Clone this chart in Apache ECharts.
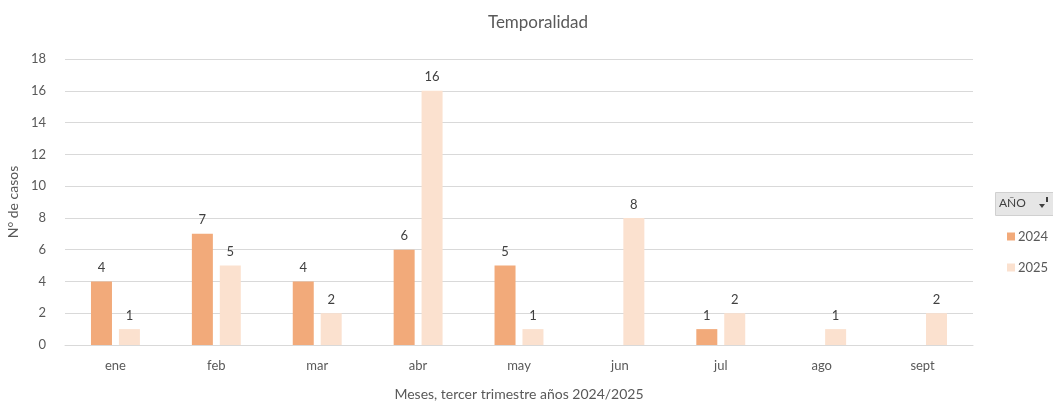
<!DOCTYPE html>
<html>
<head>
<meta charset="utf-8">
<script src="https://cdn.jsdelivr.net/npm/echarts@6/dist/echarts.min.js"></script>
<style>
  html, body { margin: 0; padding: 0; background: #fff; }
  #chart { width: 1053px; height: 402px; }
</style>
</head>
<body>
<div id="chart"></div>
<script>
// Monthly case counts by year
const months = ['ene', 'feb', 'mar', 'abr', 'may', 'jun', 'jul', 'ago', 'sept'];
const cases2024 = [4, 7, 4, 6, 5, null, 1, null, null];
const cases2025 = [1, 5, 2, 16, 1, 8, 2, 1, 2];
const yTicks = { min: 0, max: 18, interval: 2 };

const FONT = 'Lato, "Open Sans", sans-serif';
const TXT = '#595959';

const chart = echarts.init(document.getElementById('chart'));

const labelStyle = {
  show: true,
  position: 'top',
  distance: 7,
  color: '#404040',
  fontSize: 13,
  fontFamily: FONT
};

chart.setOption({
  animation: false,
  title: {
    text: 'Temporalidad',
    left: 533,
    textAlign: 'center',
    top: 9,
    textStyle: { color: TXT, fontSize: 17, fontWeight: 'normal', fontFamily: FONT }
  },
  grid: { left: 65, right: 80, top: 59, bottom: 57, outerBoundsMode: 'none' },
  legend: {
    orient: 'vertical',
    left: 1002,
    top: 225,
    itemWidth: 8,
    itemHeight: 8,
    itemGap: 18,
    icon: 'rect',
    textStyle: { color: TXT, fontSize: 13, fontFamily: FONT, padding: [0, 0, 0, -2] },
    data: ['2024', '2025']
  },
  xAxis: {
    type: 'category',
    data: months,
    axisLine: { lineStyle: { color: '#d9d9d9' } },
    axisTick: { show: false },
    axisLabel: { color: TXT, fontSize: 13, fontFamily: FONT, margin: 14 },
    name: 'Meses, tercer trimestre años 2024/2025',
    nameLocation: 'middle',
    nameGap: 42,
    nameTextStyle: { color: TXT, fontSize: 14, fontFamily: FONT }
  },
  yAxis: {
    type: 'value',
    min: yTicks.min,
    max: yTicks.max,
    interval: yTicks.interval,
    axisLine: { show: false },
    axisTick: { show: false },
    splitLine: { lineStyle: { color: '#d9d9d9' } },
    axisLabel: { color: TXT, fontSize: 13, fontFamily: FONT, margin: 19 },
    name: 'N° de casos',
    nameLocation: 'middle',
    nameGap: 41,
    nameTextStyle: { color: TXT, fontSize: 14, fontFamily: FONT }
  },
  series: [
    {
      name: '2024',
      type: 'bar',
      data: cases2024,
      barWidth: 21,
      barGap: '33%',
      itemStyle: { color: '#F2AA7A' },
      label: labelStyle
    },
    {
      name: '2025',
      type: 'bar',
      data: cases2025,
      barWidth: 21,
      itemStyle: { color: '#FBE1CF' },
      label: labelStyle
    }
  ],
  graphic: [
    {
      type: 'rect',
      left: 995,
      top: 192,
      shape: { width: 60, height: 23 },
      style: { fill: '#e6e6e6', stroke: '#d0d0d0', lineWidth: 1 }
    },
    {
      type: 'text',
      left: 999,
      top: 197,
      style: { text: 'AÑO', fill: '#404040', fontSize: 12, fontFamily: FONT }
    },
    {
      type: 'polygon',
      shape: { points: [[1039, 204], [1045, 204], [1042, 208]] },
      style: { fill: '#404040' }
    },
    {
      type: 'rect',
      shape: { x: 1046, y: 197, width: 2, height: 5 },
      style: { fill: '#404040' }
    }
  ]
});
</script>
</body>
</html>
